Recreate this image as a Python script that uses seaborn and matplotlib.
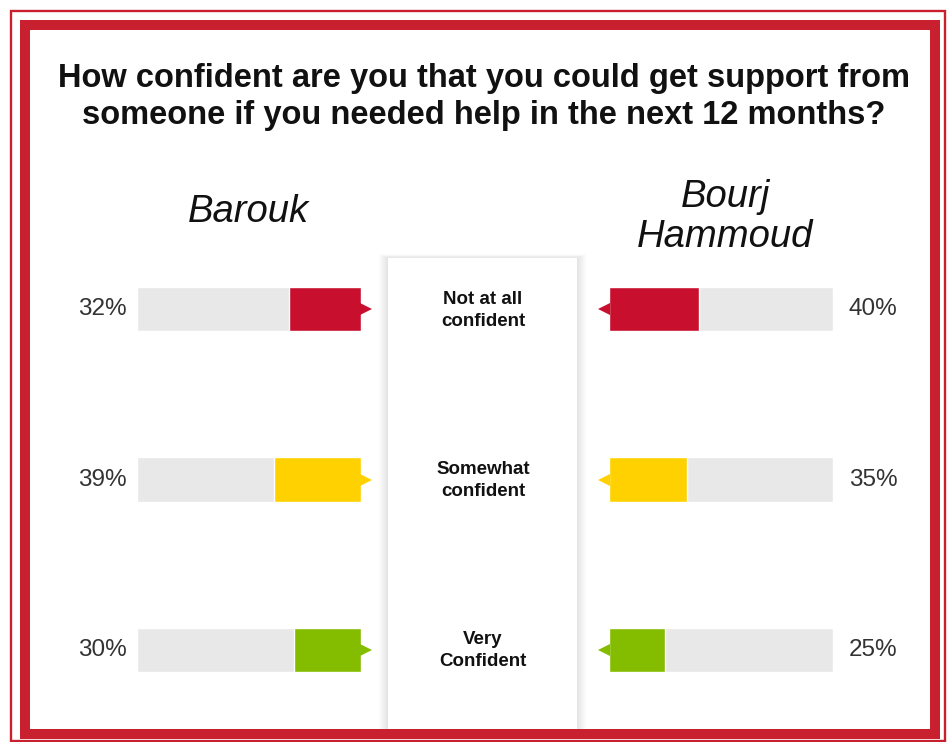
import matplotlib
matplotlib.use("Agg")
import matplotlib.pyplot as plt
import matplotlib.transforms as mtransforms
from matplotlib.patches import Rectangle
import pandas as pd
import seaborn as sns

# ---- data ----
categories = ["Not at all\nconfident", "Somewhat\nconfident", "Very\nConfident"]
barouk = [32, 39, 30]
bourj_hammoud = [40, 35, 25]
panel_names = ["Barouk", "Bourj\nHammoud"]
title = ("How confident are you that you could get support from\n"
         "someone if you needed help in the next 12 months?")

# ---- styles ----
level_colors = ["#C8102E", "#FFD100", "#84BD00"]
track_color = "#E8E8E8"
frame_red = "#C8202F"

sns.set_theme(style="white")
plt.rcParams["font.family"] = ["Liberation Sans", "DejaVu Sans"]

W, H = 949, 742
fig = plt.figure(figsize=(W / 100, H / 100), dpi=100)
fig.patch.set_facecolor("white")


def fx(x):
    return x / W


def fy(y):
    return 1 - y / H


# frame: thin outer line and thick inner band
fig.add_artist(Rectangle((fx(11), fy(741)), fx(945) - fx(11), fy(11) - fy(741),
                         transform=fig.transFigure, fill=False,
                         edgecolor=frame_red, linewidth=1.7, zorder=-1))
fig.add_artist(Rectangle((fx(25), fy(734)), fx(935) - fx(25), fy(25) - fy(734),
                         transform=fig.transFigure, fill=False,
                         edgecolor=frame_red, linewidth=7.2, zorder=-1))

# center column with a soft shadow on its edges
cx0, cx1, cy0, cy1 = 388, 577, 258, 729
for i in range(9, 0, -1):
    fig.add_artist(Rectangle((fx(cx0 - i), fy(cy1)), fx(cx1 + i) - fx(cx0 - i),
                             fy(cy0 - i * 0.4) - fy(cy1),
                             transform=fig.transFigure, facecolor="black",
                             edgecolor="none", alpha=0.010, zorder=-3))
fig.add_artist(Rectangle((fx(cx0), fy(cy1)), fx(cx1) - fx(cx0), fy(cy0) - fy(cy1),
                         transform=fig.transFigure, facecolor="white",
                         edgecolor="none", zorder=-2))

# title
fig.text(fx(484), fy(97), title, ha="center", va="center", fontsize=23.5,
         fontweight="bold", color="#111111", linespacing=1.27)

# panel axes (pixel extents of the bar tracks)
row_top, row_bottom = 224, 735
ax_l = fig.add_axes([fx(137), fy(row_bottom), fx(224), (row_bottom - row_top) / H])
ax_r = fig.add_axes([fx(609), fy(row_bottom), fx(224), (row_bottom - row_top) / H])

for ax, vals, side in [(ax_l, barouk, "left"), (ax_r, bourj_hammoud, "right")]:
    df = pd.DataFrame({"level": categories, "pct": [v / 100 for v in vals],
                       "full": [1.0] * len(vals)})
    sns.barplot(data=df, x="full", y="level", order=categories, color=track_color,
                width=0.26, saturation=1, ax=ax, zorder=1)
    sns.barplot(data=df, x="pct", y="level", hue="level", order=categories,
                hue_order=categories, palette=level_colors, width=0.26,
                saturation=1, legend=False, ax=ax, zorder=2)
    ax.set_xlim((1, 0) if side == "left" else (0, 1))
    ax.set_ylim(len(categories) - 0.5, -0.5)
    ax.axis("off")
    ax.patch.set_alpha(0)

    # small pointer at the inner end of each coloured bar
    shift = 5 if side == "left" else -5
    tr = mtransforms.offset_copy(ax.transData, fig=fig, x=shift, y=0, units="dots")
    for i, c in enumerate(level_colors):
        ax.plot([0], [i], marker=">" if side == "left" else "<", markersize=8,
                color=c, transform=tr, clip_on=False, zorder=3,
                markeredgewidth=0)

    # percentage labels outside the tracks
    dx = -35 if side == "left" else 40
    for i, v in enumerate(vals):
        ax.annotate(f"{v}%", xy=(1, i), xytext=(dx, 0), textcoords="offset pixels",
                    ha="center", va="center", fontsize=17.5, color="#333333",
                    annotation_clip=False)

# category labels in the center column
for i, cat in enumerate(categories):
    ax_l.annotate(cat, xy=(0, i), xytext=(122, -1), textcoords="offset pixels",
                  ha="center", va="center", fontsize=13.5, fontweight="bold",
                  color="#111111", linespacing=1.4, annotation_clip=False)

# panel headings
fig.text(fx(248), fy(212), panel_names[0], ha="center", va="center",
         fontsize=27.5, fontstyle="italic", color="#111111")
fig.text(fx(725), fy(217), panel_names[1], ha="center", va="center",
         fontsize=27.5, fontstyle="italic", color="#111111", linespacing=1.16)

fig.savefig("out.png", dpi=100, facecolor="white")
